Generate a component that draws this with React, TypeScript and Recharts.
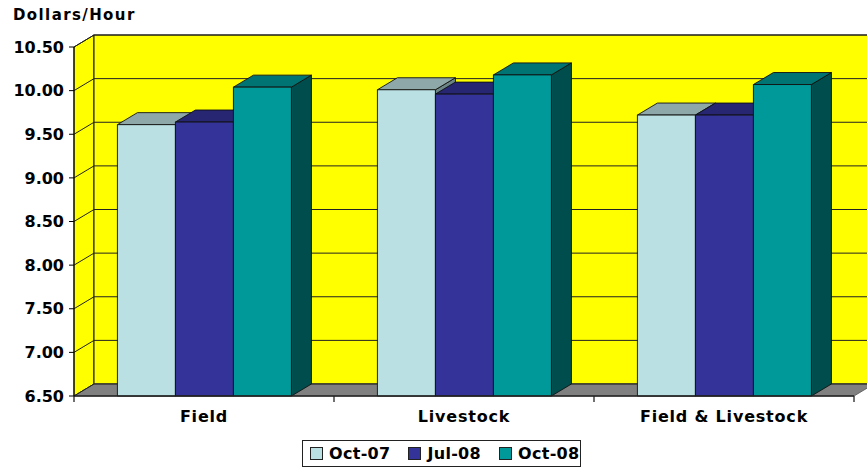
import React from 'react';
import { BarChart, Bar, XAxis, YAxis, ReferenceArea, Legend } from 'recharts';

const CATEGORIES = ['Field', 'Livestock', 'Field & Livestock'];
const OCT07 = [9.61, 10.01, 9.72];
const JUL08 = [9.64, 9.96, 9.72];
const OCT08 = [10.04, 10.18, 10.07];
const Y_TICKS = [6.5, 7, 7.5, 8, 8.5, 9, 9.5, 10, 10.5];

const SERIES = [
  { key: 'oct07', name: 'Oct-07', front: '#BBE0E3', top: '#8EA7A9', side: '#6B8486' },
  { key: 'jul08', name: 'Jul-08', front: '#333399', top: '#262673', side: '#1A1A4D' },
  { key: 'oct08', name: 'Oct-08', front: '#009999', top: '#007373', side: '#004D4D' },
];

const data = CATEGORIES.map((name, i) => ({ name, oct07: OCT07[i], jul08: JUL08[i], oct08: OCT08[i] }));

const DX = 20;
const DY = 12;
const Y_MIN = 6.5;
const Y_MAX = 10.5;
const FONT = 'DejaVu Sans, sans-serif';

const makeShape = (s: any) => (p: any) => {
  const { x, y, width: w, height: h } = p;
  if (w == null || h == null) return null;
  const st = { stroke: '#111', strokeWidth: 0.9, strokeLinejoin: 'round' as const };
  return (
    <g>
      <polygon points={`${x + w},${y} ${x + w + DX},${y - DY} ${x + w + DX},${y + h - DY} ${x + w},${y + h}`} fill={s.side} {...st} />
      <polygon points={`${x},${y} ${x + DX},${y - DY} ${x + w + DX},${y - DY} ${x + w},${y}`} fill={s.top} {...st} />
      <rect x={x} y={y} width={w} height={h} fill={s.front} {...st} />
    </g>
  );
};

const WallShape = (p: any) => {
  const { x, y, width, height } = p;
  const yOf = (t: number) => y + (height * (Y_MAX - t)) / (Y_MAX - Y_MIN);
  const bottom = y + height;
  const n = CATEGORIES.length;
  return (
    <g>
      <polygon points={`${x},${y} ${x + DX},${y - DY} ${x + DX},${bottom - DY} ${x},${bottom}`} fill="#FFFF00" stroke="#111" strokeWidth={1} />
      <rect x={x + DX} y={y - DY} width={width + 40} height={height} fill="#FFFF00" stroke="#111" strokeWidth={1} />
      <polygon points={`${x},${bottom} ${x + DX},${bottom - DY} ${x + width + DX},${bottom - DY} ${x + width},${bottom}`} fill="#808080" stroke="#555" strokeWidth={0.8} />
      {Y_TICKS.map((t) => {
        const yy = yOf(t);
        return (
          <g key={t}>
            <line x1={x} y1={yy} x2={x + DX} y2={yy - DY} stroke="#222" strokeWidth={1} />
            <line x1={x + DX} y1={yy - DY} x2={x + width + DX + 40} y2={yy - DY} stroke="#222" strokeWidth={1} />
          </g>
        );
      })}
      {Array.from({ length: n + 1 }, (_, i) => (
        <line key={`b${i}`} x1={x + (width * i) / n} y1={bottom} x2={x + (width * i) / n} y2={bottom + 6} stroke="#111" strokeWidth={1.2} />
      ))}
    </g>
  );
};

const LegendContent = () => (
  <div
    style={{
      boxSizing: 'border-box',
      width: 279,
      height: 27,
      border: '1px solid #222',
      display: 'flex',
      alignItems: 'center',
      fontFamily: FONT,
      fontWeight: 'bold',
      fontSize: 16,
      color: '#000',
      background: '#fff',
    }}
  >
    {SERIES.map((s, i) => (
      <div key={s.key} style={{ display: 'flex', alignItems: 'center', marginLeft: i === 0 ? 7 : 18 }}>
        <span style={{ display: 'inline-block', width: 11, height: 11, background: s.front, border: '1px solid #222', marginRight: 6 }} />
        <span style={{ letterSpacing: 0.3 }}>{s.name}</span>
      </div>
    ))}
  </div>
);

export default function App() {
  return (
    <div style={{ position: 'absolute', left: 0, top: 0, width: 867, height: 469, background: '#fff' }}>
      <BarChart
        width={867}
        height={469}
        data={data}
        margin={{ top: 47, right: 13, bottom: 2, left: 0 }}
        barCategoryGap="16.7%"
        barGap={0}
      >
        <XAxis
          dataKey="name"
          height={44}
          axisLine={{ stroke: '#222', strokeWidth: 1.5 }}
          tickLine={false}
          tickSize={6}
          tickMargin={9}
          tick={{ fill: '#000', fontFamily: FONT, fontWeight: 'bold', fontSize: 16, letterSpacing: 0.8 }}
        />
        <YAxis
          domain={[Y_MIN, Y_MAX]}
          ticks={Y_TICKS}
          interval={0}
          width={74}
          tickFormatter={(v: number) => v.toFixed(2)}
          axisLine={{ stroke: '#000', strokeWidth: 1 }}
          tickLine={{ stroke: '#000' }}
          tickSize={5}
          tickMargin={5}
          tick={{ fill: '#000', fontFamily: FONT, fontWeight: 'bold', fontSize: 16 }}
        />
        <ReferenceArea y1={Y_MIN} y2={Y_MAX} shape={WallShape} ifOverflow="visible" />
        {SERIES.map((s) => (
          <Bar key={s.key} dataKey={s.key} name={s.name} fill={s.front} isAnimationActive={false} shape={makeShape(s)} />
        ))}
        <Legend verticalAlign="bottom" wrapperStyle={{ left: 302, bottom: 2, width: 279, height: 27 }} content={LegendContent} />
        <text x={13} y={20} fontFamily={FONT} fontWeight="bold" fontSize={15} letterSpacing={1.4} fill="#000">
          Dollars/Hour
        </text>
      </BarChart>
    </div>
  );
}
